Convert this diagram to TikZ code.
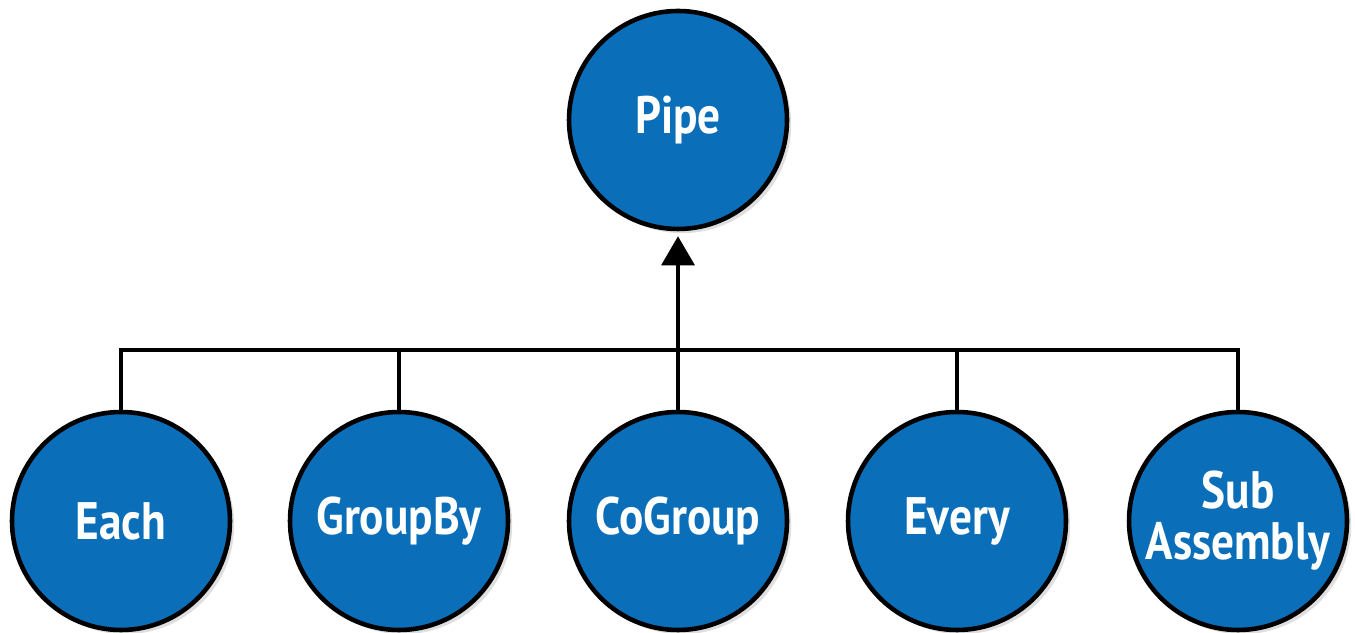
\documentclass[tikz,border=0pt]{standalone}
\usepackage{fontspec}
\newfontfamily\nodefont[FakeStretch=0.86]{PT Sans}
\usepackage{tikz}
\usetikzlibrary{arrows.meta, positioning, calc, shadows}
\definecolor{pipeblue}{RGB}{10,110,185}
\tikzset{
    pipe_node/.style={circle, draw=black, line width=1.3pt, fill=pipeblue, minimum size=2.18cm, inner sep=0pt,
        text=white, align=center, font=\nodefont\bfseries\fontsize{15}{14.5}\selectfont,
        drop shadow={shadow xshift=1.2pt, shadow yshift=-1.2pt, opacity=0.25}},
    link/.style={line width=0.9pt, black},
    arrow/.style={-{Triangle[length=0.29cm, width=0.33cm]}, line width=0.9pt, black}
}
\begin{document}
\begin{tikzpicture}

    \useasboundingbox (0,0) rectangle (13.55,6.33);

    % Parent
    \node[pipe_node] (pipe) at (6.78,5.13) {Pipe};

    % Children
    \node[pipe_node] (each) at (1.21,1.12) {Each};
    \node[pipe_node] (groupby) at (3.99,1.12) {GroupBy};
    \node[pipe_node] (cogroup) at (6.78,1.12) {CoGroup};
    \node[pipe_node] (every) at (9.57,1.12) {Every};
    \node[pipe_node] (subasm) at (12.38,1.12) {Sub\\Assembly};

    % Bus
    \coordinate (hub) at (6.78,2.83);
    \draw[link] (each.north) |- (hub) -| (subasm.north);
    \draw[link] (groupby.north) -- (groupby.north |- hub);
    \draw[link] (every.north) -- (every.north |- hub);

    % Arrow up to the parent
    \draw[arrow, shorten >=0.05cm] (cogroup.north) -- (pipe.south);

\end{tikzpicture}
\end{document}
